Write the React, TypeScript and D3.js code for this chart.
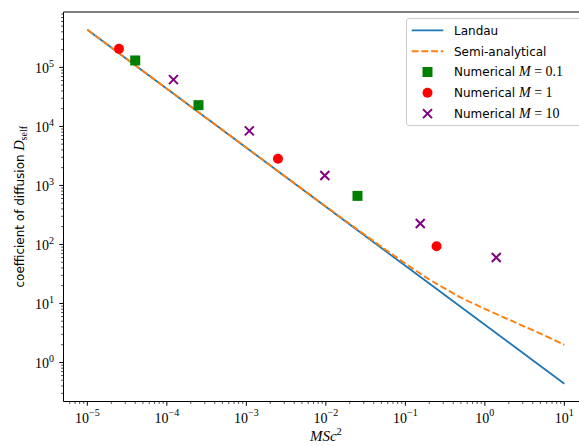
import React from 'react'
import * as d3 from 'd3'

// Landau curve
const landauX = [1e-5, 1e-4, 1e-3, 1e-2, 1e-1, 1, 10]
const landauD = [4.35e5, 4.35e4, 4350, 435, 43.5, 4.35, 0.435]

// semi-analytical curve
const semiX = [1e-5, 1e-4, 1e-3, 1e-2, 0.03, 0.1, 0.2, 0.3, 0.5, 1, 2, 3, 5, 10]
const semiD = [4.35e5, 4.35e4, 4360, 440, 150, 47.6, 25.5, 18.5, 12.6, 8.1, 5.33, 4.18, 3.08, 1.99]

// numerical points
const m01X = [4.0e-5, 2.5e-4, 2.5e-2]
const m01D = [1.31e5, 2.29e4, 665]
const m1X = [2.5e-5, 2.5e-3, 0.247]
const m1D = [2.06e5, 2840, 93]
const m10X = [1.21e-4, 1.09e-3, 9.7e-3, 0.154, 1.39]
const m10D = [6.2e4, 8400, 1470, 227, 60]

const W = 579
const H = 446
const margin = { left: 63.5, top: 12, right: 588.2, bottom: 401.5 }

const mathFont = '"Liberation Serif", "DejaVu Serif", serif'
const sansFont = '"DejaVu Sans", sans-serif'

const padLog = (lo: number, hi: number): [number, number] => {
  const a = Math.log10(lo), b = Math.log10(hi)
  const p = (b - a) * 0.05
  return [10 ** (a - p), 10 ** (b + p)]
}

const App = () => {
  const allY = [...landauD, ...semiD]
  const x = d3.scaleLog().domain(padLog(1e-5, 10)).range([margin.left, margin.right])
  const y = d3.scaleLog().domain(padLog(d3.min(allY)!, d3.max(allY)!)).range([margin.bottom, margin.top])

  const line = d3.line<[number, number]>()
    .x(d => x(d[0]))
    .y(d => y(d[1]))
    .curve(d3.curveCatmullRom.alpha(0.5))

  const [x0, x1] = x.domain()
  const [y0, y1] = y.domain()

  const majors = (lo: number, hi: number) => d3.range(Math.ceil(Math.log10(lo)), Math.floor(Math.log10(hi)) + 1)
  const minors = (lo: number, hi: number) => {
    const out: number[] = []
    for (let k = Math.floor(Math.log10(lo)); k <= Math.ceil(Math.log10(hi)); k++) {
      for (let m = 2; m < 10; m++) {
        const v = m * 10 ** k
        if (v >= lo && v <= hi) out.push(v)
      }
    }
    return out
  }
  const sup = (k: number) => (k < 0 ? '\u2212' + (-k) : '' + k)

  const xMaj = majors(x0, x1)
  const yMaj = majors(y0, y1)

  const legendRows = [30.4, 51.2, 72, 92.8, 113.6]

  return (
    <svg width={W} height={H} style={{ position: 'absolute', left: 0, top: 0, background: 'white' }}>
      <defs>
        <clipPath id='clip'>
          <rect x={margin.left} y={margin.top} width={margin.right - margin.left} height={margin.bottom - margin.top} />
        </clipPath>
      </defs>

      <g clipPath='url(#clip)'>
        <path d={line(landauX.map((v, i) => [v, landauD[i]]))!} fill='none' stroke='#1f77b4' strokeWidth={1.8} />
        <path d={line(semiX.map((v, i) => [v, semiD[i]]))!} fill='none' stroke='#ff7f0e' strokeWidth={1.9} strokeDasharray='6.8,2.9' />

        {m01X.map((v, i) => (
          <rect key={'s' + i} x={x(v) - 5} y={y(m01D[i]) - 5} width={10} height={10} fill='green' />
        ))}
        {m1X.map((v, i) => (
          <circle key={'c' + i} cx={x(v)} cy={y(m1D[i])} r={5} fill='red' />
        ))}
        {m10X.map((v, i) => {
          const cx = x(v), cy = y(m10D[i])
          return (
            <path key={'x' + i} d={`M${cx - 4.5},${cy - 4.5}L${cx + 4.5},${cy + 4.5}M${cx - 4.5},${cy + 4.5}L${cx + 4.5},${cy - 4.5}`}
              stroke='purple' strokeWidth={2} />
          )
        })}
      </g>

      {/* spines */}
      <path d={`M${margin.left},${margin.top}V${margin.bottom}H${margin.right}`} fill='none' stroke='black' strokeWidth={1} />
      <path d={`M${margin.left},${margin.top}H${margin.right}V${margin.bottom}`} fill='none' stroke='black' strokeWidth={1} />

      {/* x ticks */}
      {minors(x0, x1).map((v, i) => (
        <line key={'xm' + i} x1={x(v)} x2={x(v)} y1={margin.bottom} y2={margin.bottom + 2.4} stroke='black' strokeWidth={0.7} />
      ))}
      {xMaj.map(k => (
        <g key={'xM' + k}>
          <line x1={x(10 ** k)} x2={x(10 ** k)} y1={margin.bottom} y2={margin.bottom + 4.2} stroke='black' strokeWidth={1} />
          <text x={x(10 ** k)} y={422.5} textAnchor='middle' fontFamily={mathFont} fontSize={14}>
            <tspan>10</tspan>
            <tspan dy={-6.5} fontSize={10}>{sup(k)}</tspan>
          </text>
        </g>
      ))}

      {/* y ticks */}
      {minors(y0, y1).map((v, i) => (
        <line key={'ym' + i} x1={margin.left} x2={margin.left - 2.4} y1={y(v)} y2={y(v)} stroke='black' strokeWidth={0.7} />
      ))}
      {yMaj.map(k => (
        <g key={'yM' + k}>
          <line x1={margin.left} x2={margin.left - 4.2} y1={y(10 ** k)} y2={y(10 ** k)} stroke='black' strokeWidth={1} />
          <text x={54} y={y(10 ** k) + 6} textAnchor='end' fontFamily={mathFont} fontSize={14}>
            <tspan>10</tspan>
            <tspan dy={-6.5} fontSize={10}>{sup(k)}</tspan>
          </text>
        </g>
      ))}

      {/* axis labels */}
      <text x={(margin.left + margin.right) / 2} y={441} textAnchor='middle' fontFamily={mathFont} fontSize={15} fontStyle='italic'>
        <tspan>MSc</tspan>
        <tspan dy={-6.5} fontSize={10.5} fontStyle='normal'>2</tspan>
      </text>
      <text transform={`translate(24,${(margin.top + margin.bottom) / 2}) rotate(-90)`} textAnchor='middle' fontSize={12}>
        <tspan fontFamily={sansFont}>coefficient of diffusion </tspan>
        <tspan fontFamily={mathFont} fontStyle='italic' fontSize={14}>D</tspan>
        <tspan fontFamily={mathFont} fontSize={10} dy={3}>self</tspan>
      </text>

      {/* legend */}
      <rect x={406.5} y={18.5} width={175.5} height={107} rx={2.5} fill='white' fillOpacity={0.8} stroke='#cccccc' strokeWidth={1} />
      <line x1={411.7} x2={443.3} y1={legendRows[0]} y2={legendRows[0]} stroke='#1f77b4' strokeWidth={1.8} />
      <line x1={411.7} x2={443.3} y1={legendRows[1]} y2={legendRows[1]} stroke='#ff7f0e' strokeWidth={1.9} strokeDasharray='6.8,2.9' />
      <rect x={427.5 - 5} y={legendRows[2] - 5} width={10} height={10} fill='green' />
      <circle cx={427.5} cy={legendRows[3]} r={5} fill='red' />
      <path d={`M423,${legendRows[4] - 4.5}L432,${legendRows[4] + 4.5}M423,${legendRows[4] + 4.5}L432,${legendRows[4] - 4.5}`} stroke='purple' strokeWidth={2} />
      {[
        ['Landau', ''],
        ['Semi-analytical', ''],
        ['Numerical ', '0.1'],
        ['Numerical ', '1'],
        ['Numerical ', '10'],
      ].map(([t, m], i) => (
        <text key={'lg' + i} x={454} y={legendRows[i] + 4.3} fontFamily={sansFont} fontSize={12}>
          <tspan>{t}</tspan>
          {m && <tspan fontFamily={mathFont} fontStyle='italic' fontSize={14}>M</tspan>}
          {m && <tspan fontFamily={mathFont} fontSize={14}>{'\u2005=\u2005' + m}</tspan>}
        </text>
      ))}
    </svg>
  )
}

export default App
